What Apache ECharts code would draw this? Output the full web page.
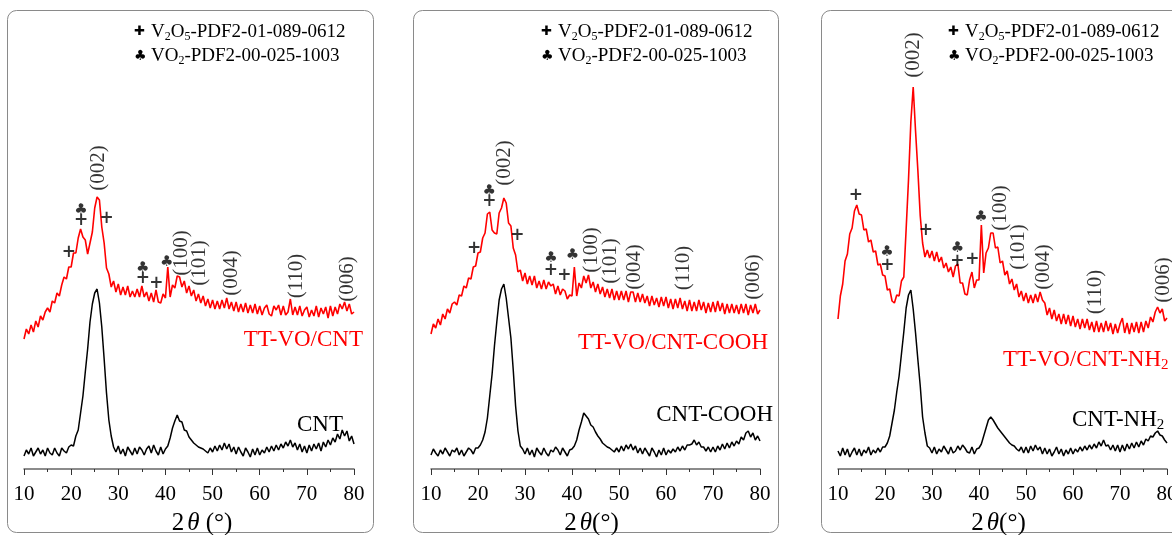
<!DOCTYPE html>
<html><head><meta charset="utf-8">
<script src="https://cdn.jsdelivr.net/npm/echarts@6/dist/echarts.min.js"></script>
<style>html,body{margin:0;padding:0;background:#fff}#c{width:1172px;height:535px}</style>
</head><body><div id="c"></div>
<script>
// 2θ sampling (degrees)
const twoTheta = [
 10,10.5,11,11.5,12,12.5,13,13.5,14,14.5,
 15,15.5,16,16.5,17,17.5,18,18.5,19,19.5,
 20,20.5,21,21.5,22,22.5,23,23.5,24,24.5,
 25,25.5,26,26.5,27,27.5,28,28.5,29,29.5,
 30,30.5,31,31.5,32,32.5,33,33.5,34,34.5,
 35,35.5,36,36.5,37,37.5,38,38.5,39,39.5,
 40,40.5,41,41.5,42,42.5,43,43.5,44,44.5,
 45,45.5,46,46.5,47,47.5,48,48.5,49,49.5,
 50,50.5,51,51.5,52,52.5,53,53.5,54,54.5,
 55,55.5,56,56.5,57,57.5,58,58.5,59,59.5,
 60,60.5,61,61.5,62,62.5,63,63.5,64,64.5,
 65,65.5,66,66.5,67,67.5,68,68.5,69,69.5,
 70,70.5,71,71.5,72,72.5,73,73.5,74,74.5,
 75,75.5,76,76.5,77,77.5,78,78.5,79,79.5,
 80];
const tickValues = [10,20,30,40,50,60,70,80];

// Panel 1: CNT and TT-VO/CNT (intensity, offset a.u.)
const blackPanel1 = [
 13,19,15,21,13,17,21,15,19,13,
 21,16,14,21,16,13,21,18,16,22,
 24,23,33,39,56,73,97,120,147,165,
 176,180,166,142,110,76,49,33,22,17,
 23,15,20,13,22,18,14,21,15,22,
 19,14,20,23,16,24,18,14,22,15,
 20,23,31,41,48,54,48,47,39,38,
 32,29,26,24,22,21,20,18,16,21,
 17,23,18,24,19,26,20,25,17,22,
 15,22,17,13,21,17,12,20,14,21,
 14,19,16,22,17,23,18,24,19,25,
 21,27,23,29,22,26,19,25,17,23,
 16,24,18,25,20,26,18,27,22,29,
 24,31,27,35,30,39,33,38,28,33,
 25];
const redPanel1 = [
 130,140,135,144,137,148,142,153,149,157,
 161,157,168,166,176,173,184,192,190,202,
 202,216,216,231,240,232,229,215,226,237,
 261,272,269,242,226,201,195,182,188,177,
 185,174,182,174,183,172,178,172,180,172,
 183,172,177,168,176,167,179,167,166,175,
 171,202,172,184,181,193,192,182,188,176,
 183,173,179,168,175,166,173,163,170,161,
 169,160,168,160,169,161,171,160,167,158,
 167,157,165,157,166,156,164,156,165,155,
 163,154,161,164,155,153,163,159,164,154,
 163,154,157,170,154,162,154,163,153,159,
 162,152,159,153,163,152,161,155,162,151,
 163,153,162,155,165,160,167,158,165,155,
 157];

// Panel 2: CNT-COOH and TT-VO/CNT-COOH
const blackPanel2 = [
 14,20,16,13,19,15,21,17,13,19,
 17,21,14,19,13,17,21,19,15,21,
 21,24,29,37,51,73,95,123,147,169,
 180,185,171,151,131,99,63,38,23,20,
 15,21,14,19,12,21,17,14,21,16,
 13,19,17,22,19,14,21,17,13,19,
 20,23,29,39,47,56,53,50,44,42,
 37,33,30,26,24,22,21,19,17,21,
 17,23,18,24,20,25,19,23,16,21,
 15,21,17,13,21,17,12,19,14,21,
 14,19,16,20,17,22,18,23,19,24,
 24,25,29,24,27,22,22,18,22,17,
 22,17,23,19,25,20,26,21,27,23,
 28,25,32,29,36,38,32,36,29,33,
 28];
const redPanel2 = [
 135,145,141,150,144,155,150,160,156,165,
 167,164,174,173,183,181,191,190,202,203,
 216,217,231,236,255,257,239,236,235,256,
 261,271,266,246,243,221,214,197,199,188,
 196,185,193,184,193,181,188,180,189,180,
 187,183,185,175,183,174,180,178,170,174,
 173,202,173,186,181,193,186,194,181,187,
 177,185,175,182,172,180,171,180,169,178,
 169,178,169,178,167,177,177,167,176,167,
 175,166,173,163,173,164,171,162,172,163,
 172,161,170,160,170,161,171,160,168,158,
 169,158,167,158,169,159,167,156,166,157,
 167,157,168,158,166,155,165,156,165,156,
 164,155,165,156,165,154,164,156,165,155,
 159];

// Panel 3: CNT-NH2 and TT-VO/CNT-NH2
const blackPanel3 = [
 18,13,21,14,20,12,17,21,14,20,
 13,19,16,22,14,19,16,21,17,22,
 22,26,33,46,59,77,93,115,137,161,
 174,179,160,136,109,83,52,36,23,21,
 16,22,15,20,17,23,19,15,22,16,
 18,23,19,24,21,17,16,22,15,20,
 21,25,33,41,49,52,49,45,41,38,
 35,32,29,26,24,23,20,18,22,16,
 22,16,23,18,24,19,22,15,21,15,
 20,13,17,22,15,20,13,19,15,21,
 15,20,17,22,18,23,19,24,20,25,
 21,27,23,29,23,24,19,24,18,24,
 17,24,18,25,20,26,21,27,22,28,
 24,30,28,33,32,36,38,34,33,29,
 26];
const redPanel3 = [
 150,173,185,208,215,235,241,258,264,255,
 254,239,240,227,229,217,218,204,205,194,
 193,179,180,168,166,174,173,188,192,240,
 289,347,382,338,298,253,226,212,219,211,
 218,208,217,207,212,201,206,197,202,192,
 203,205,186,186,175,174,189,197,181,189,
 189,244,196,216,221,236,236,221,222,206,
 208,194,198,185,190,179,185,172,178,168,
 176,166,174,166,175,167,177,169,166,154,
 161,150,159,148,155,145,155,145,154,143,
 153,142,150,140,150,141,150,139,147,137,
 148,137,146,137,148,138,146,135,145,136,
 145,151,136,146,135,146,137,147,136,147,
 137,148,141,152,147,157,162,156,160,148,
 151];

// Peak annotations: [text, 2θ, height]
const hklPanel1 = [['(002)',25.7,301],['(100)',43.5,216],['(101)',47.3,206],['(004)',54.1,196],['(110)',67.8,193],['(006)',78.7,190]];
const phasePanel1 = [['+',19.5,216],['♣',22.1,259],['+',22.1,248],['+',27.5,250],['♣',35.2,201],['+',35.2,190],['+',38.1,185],['♣',40.3,207]];
const hklPanel2 = [['(002)',25.7,306],['(100)',44.2,219],['(101)',48.1,208],['(004)',53.4,202],['(110)',63.7,201],['(006)',78.6,192]];
const phasePanel2 = [['+',19.2,220],['♣',22.4,278],['+',22.4,267],['+',28.4,233],['♣',35.5,211],['+',35.5,198],['+',38.4,193],['♣',40.1,214]];
const hklPanel3 = [['(002)',26.0,414],['(100)',44.5,261],['(101)',48.4,222],['(004)',53.7,202],['(110)',64.7,177],['(006)',79.2,189]];
const phasePanel3 = [['+',13.8,273],['♣',20.4,217],['+',20.5,203],['+',28.7,238],['♣',35.4,221],['+',35.4,207],['+',38.6,209],['♣',40.4,252]];

const redNames = ['TT-VO/CNT','TT-VO/CNT-COOH','TT-VO/CNT-NH'];
const blackNames = ['CNT','CNT-COOH','CNT-NH'];

// ---------- build ----------
const SERIF = 'Liberation Serif';
const pair = ys => twoTheta.map((x,i)=>[x, ys[i]]);
const reds = [redPanel1, redPanel2, redPanel3];
const blacks = [blackPanel1, blackPanel2, blackPanel3];
const hkls = [hklPanel1, hklPanel2, hklPanel3];
const phases = [phasePanel1, phasePanel2, phasePanel3];
const lefts = [24, 431, 838];
const widths = [330, 329, 329];

const grid = lefts.map((l,i)=>({left:l, top:19, width:widths[i], height:450, outerBoundsMode:'none', containLabel:false}));
const axisNames = ['{n|2}{i|θ}{n| (°)}', '{n|2}{i|θ}{n|(°)}', '{n|2}{i|θ}{n|(°)}'];
const namePads = [[0,0,0,26],[0,8,0,0],[0,8,0,0]];
const xAxis = lefts.map((l,i)=>({
  type:'value', gridIndex:i,
  min:tickValues[0], max:tickValues[tickValues.length-1], interval:tickValues[1]-tickValues[0],
  axisLine:{show:true, onZero:false, lineStyle:{color:'#666', width:1.5}},
  axisTick:{show:true, length:6, lineStyle:{color:'#333', width:1}},
  minorTick:{show:true, splitNumber:2, length:3, lineStyle:{color:'#333', width:1}},
  splitLine:{show:false}, minorSplitLine:{show:false},
  axisLabel:{color:'#000', fontSize:21, fontFamily:SERIF, margin:15, lineHeight:21, showMinLabel:true, showMaxLabel:true},
  name:axisNames[i], nameLocation:'middle', nameGap:41,
  nameTextStyle:{padding:namePads[i], rich:{
    n:{fontSize:25, fontFamily:SERIF, color:'#000', lineHeight:26},
    i:{fontSize:25, fontFamily:SERIF, fontStyle:'italic', color:'#000', lineHeight:26, padding:[0,0,0,3]}
  }}
}));
const yAxis = lefts.map((l,i)=>({type:'value', gridIndex:i, min:0, max:450, show:false}));

const series = [];
for (let i=0;i<3;i++){
  series.push({type:'line', xAxisIndex:i, yAxisIndex:i, data:pair(reds[i]), showSymbol:false, symbol:'none',
    lineStyle:{color:'#ff0000', width:1.6}, silent:true, animation:false, z:2});
  series.push({type:'line', xAxisIndex:i, yAxisIndex:i, data:pair(blacks[i]), showSymbol:false, symbol:'none',
    lineStyle:{color:'#000', width:1.5}, silent:true, animation:false, z:3});
  series.push({type:'scatter', xAxisIndex:i, yAxisIndex:i, symbolSize:1, clip:false, silent:true, animation:false,
    itemStyle:{color:'rgba(0,0,0,0)'},
    data:hkls[i].map(([t,x,y])=>({value:[x,y], label:{formatter:t}})),
    label:{show:true, position:'inside', rotate:90, fontSize:21, fontFamily:SERIF, color:'#000'}, z:5});
  series.push({type:'scatter', xAxisIndex:i, yAxisIndex:i, symbolSize:1, clip:false, silent:true, animation:false,
    itemStyle:{color:'rgba(0,0,0,0)'},
    data:phases[i].map(([t,x,y])=>({value:[x,y], label:{formatter:t, fontSize: t==='+'?17:15}})),
    label:{show:true, position:'inside', fontWeight:'bold', fontFamily:'DejaVu Sans', color:'#000'}, z:5});
}

// graphics: frames, legend, curve names
const graphic = [];
const frames = [[7,10.5,366,522],[413,10.5,365,522],[821,10.5,370,522]];
frames.forEach(f=>graphic.push({type:'rect', shape:{x:f[0]+0.5,y:f[1],width:f[2],height:f[3],r:9},
  style:{fill:'none', stroke:'#8a8a8a', lineWidth:1}, silent:true, z:0}));

const subRich = (size)=>({
  t:{fontSize:size, fontFamily:SERIF, fill:'#000', lineHeight:size+3},
  s:{fontSize:Math.round(size*0.62), fontFamily:SERIF, fill:'#000', lineHeight:8, verticalAlign:'bottom'}
});
lefts.forEach((l,i)=>{
  graphic.push({type:'text', x:l+110, y:32, silent:true, style:{text:'✚', fontSize:13, fontFamily:'DejaVu Sans', fill:'#000', verticalAlign:'middle'}});
  graphic.push({type:'text', x:l+127, y:32, silent:true, style:{text:'{t|V}{s|2}{t|O}{s|5}{t|-PDF2-01-089-0612}', rich:subRich(19), verticalAlign:'middle'}});
  graphic.push({type:'text', x:l+110, y:56, silent:true, style:{text:'♣', fontSize:14, fontFamily:'DejaVu Sans', fill:'#000', verticalAlign:'middle'}});
  graphic.push({type:'text', x:l+127, y:56, silent:true, style:{text:'{t|VO}{s|2}{t|-PDF2-00-025-1003}', rich:subRich(19), verticalAlign:'middle'}});
});
const nameRich = (col)=>({
  t:{fontSize:23, fontFamily:SERIF, fill:col, lineHeight:26},
  s:{fontSize:15, fontFamily:SERIF, fill:col, lineHeight:10, verticalAlign:'bottom'}
});
graphic.push({type:'text', x:363, y:340, silent:true, style:{text:'{t|'+redNames[0]+'}', rich:nameRich('#ff0000'), align:'right', verticalAlign:'middle'}});
graphic.push({type:'text', x:343, y:425, silent:true, style:{text:'{t|'+blackNames[0]+'}', rich:nameRich('#000'), align:'right', verticalAlign:'middle'}});
graphic.push({type:'text', x:768, y:343, silent:true, style:{text:'{t|'+redNames[1]+'}', rich:nameRich('#ff0000'), align:'right', verticalAlign:'middle'}});
graphic.push({type:'text', x:773, y:415, silent:true, style:{text:'{t|'+blackNames[1]+'}', rich:nameRich('#000'), align:'right', verticalAlign:'middle'}});
graphic.push({type:'text', x:1003, y:360, silent:true, style:{text:'{t|'+redNames[2]+'}{s|2}', rich:nameRich('#ff0000'), align:'left', verticalAlign:'middle'}});
graphic.push({type:'text', x:1072, y:420, silent:true, style:{text:'{t|'+blackNames[2]+'}{s|2}', rich:nameRich('#000'), align:'left', verticalAlign:'middle'}});

const chart = echarts.init(document.getElementById('c'), null, {renderer:'canvas'});
chart.setOption({backgroundColor:'#fff', animation:false, grid, xAxis, yAxis, series, graphic});
</script>
</body></html>
